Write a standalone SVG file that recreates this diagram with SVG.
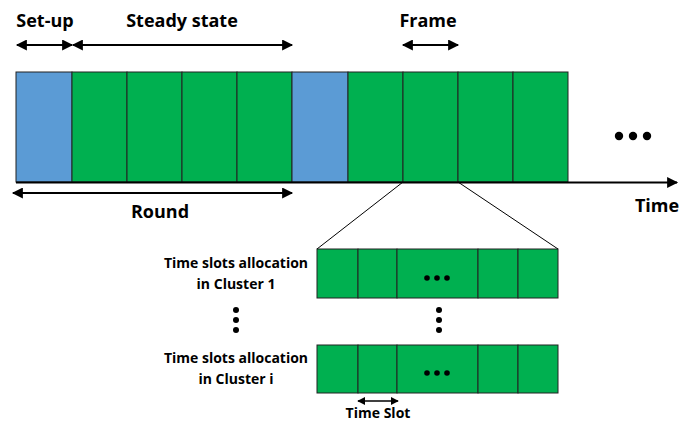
<svg xmlns="http://www.w3.org/2000/svg" width="680" height="423" viewBox="0 0 680 423">
<defs>
<style>
.t{font-family:"Open Sans","Liberation Sans",sans-serif;font-weight:bold;fill:#000}
.big{font-size:18px}
.small{font-size:14px}
.blue{fill:#5B9BD5;stroke:#222;stroke-width:1}
.green{fill:#00B050;stroke:#222;stroke-width:1}
.ar{stroke:#000;stroke-width:2.2;fill:none}
.ln{stroke:#000;stroke-width:1;fill:none}
</style>
<marker id="ah" viewBox="0 0 10 10" refX="9" refY="5" markerWidth="5.5" markerHeight="5" orient="auto-start-reverse" markerUnits="strokeWidth">
<path d="M0,0 L10,5 L0,10 z" fill="#000"/>
</marker>
<marker id="ahs" viewBox="0 0 10 10" refX="9" refY="5" markerWidth="5" markerHeight="5" orient="auto-start-reverse" markerUnits="strokeWidth">
<path d="M0,0 L10,5 L0,10 z" fill="#000"/>
</marker>
</defs>
<rect width="680" height="423" fill="#fff"/>

<g id="main-bar">
<rect class="blue" x="16" y="72" width="56" height="110"/>
<rect class="green" x="72" y="72" width="55" height="110"/>
<rect class="green" x="127" y="72" width="55" height="110"/>
<rect class="green" x="182" y="72" width="55" height="110"/>
<rect class="green" x="237" y="72" width="55" height="110"/>
<rect class="blue" x="292" y="72" width="56" height="110"/>
<rect class="green" x="348" y="72" width="55" height="110"/>
<rect class="green" x="403" y="72" width="55" height="110"/>
<rect class="green" x="458" y="72" width="55" height="110"/>
<rect class="green" x="513" y="72" width="55" height="110"/>
</g>

<g id="cluster-1">
<rect class="green" x="317" y="249" width="41" height="49"/>
<rect class="green" x="358" y="249" width="39" height="49"/>
<rect class="green" x="397" y="249" width="81" height="49"/>
<rect class="green" x="478" y="249" width="40" height="49"/>
<rect class="green" x="518" y="249" width="40" height="49"/>
<circle cx="427" cy="278" r="2.8"/><circle cx="437" cy="278" r="2.8"/><circle cx="447" cy="278" r="2.8"/>
</g>

<g id="cluster-i">
<rect class="green" x="317" y="345" width="41" height="48"/>
<rect class="green" x="358" y="345" width="39" height="48"/>
<rect class="green" x="397" y="345" width="81" height="48"/>
<rect class="green" x="478" y="345" width="40" height="48"/>
<rect class="green" x="518" y="345" width="40" height="48"/>
<circle cx="427" cy="373" r="2.8"/><circle cx="437" cy="373" r="2.8"/><circle cx="447" cy="373" r="2.8"/>
</g>

<g id="connectors">
<line class="ar" x1="16" y1="182.5" x2="677" y2="182.5" marker-end="url(#ah)"/>
<line class="ar" x1="17" y1="45" x2="72" y2="45" marker-start="url(#ah)" marker-end="url(#ah)"/>
<line class="ar" x1="73" y1="45" x2="292" y2="45" marker-start="url(#ah)" marker-end="url(#ah)"/>
<line class="ar" x1="403" y1="45" x2="458" y2="45" marker-start="url(#ah)" marker-end="url(#ah)"/>
<line class="ar" x1="13" y1="193" x2="292" y2="193" marker-start="url(#ah)" marker-end="url(#ah)"/>
<line class="ar" style="stroke-width:1.6" x1="358" y1="401" x2="398" y2="401" marker-start="url(#ahs)" marker-end="url(#ahs)"/>
<line class="ln" x1="403" y1="182" x2="317" y2="249"/>
<line class="ln" x1="458" y1="182" x2="558" y2="249"/>
</g>

<g id="labels">
<text class="t big" x="45" y="27" text-anchor="middle">Set-up</text>
<text class="t big" x="182" y="27" text-anchor="middle">Steady state</text>
<text class="t big" x="428" y="27" text-anchor="middle">Frame</text>
<text class="t big" x="160" y="218" text-anchor="middle">Round</text>
<text class="t big" x="657" y="212" text-anchor="middle">Time</text>
<g id="ellipsis"><circle cx="619" cy="136" r="4.2"/><circle cx="633" cy="136" r="4.2"/><circle cx="647" cy="136" r="4.2"/></g>
<text class="t small" x="236" y="268" text-anchor="middle">Time slots allocation</text>
<text class="t small" x="236" y="289" text-anchor="middle">in Cluster 1</text>
<text class="t small" x="236" y="363" text-anchor="middle">Time slots allocation</text>
<text class="t small" x="236" y="384" text-anchor="middle">in Cluster i</text>
<text class="t small" x="378" y="418" text-anchor="middle">Time Slot</text>
<circle cx="236" cy="310" r="3"/><circle cx="236" cy="320" r="3"/><circle cx="236" cy="330" r="3"/>
<circle cx="439" cy="310" r="3"/><circle cx="439" cy="320" r="3"/><circle cx="439" cy="330" r="3"/>
</g>
</svg>
